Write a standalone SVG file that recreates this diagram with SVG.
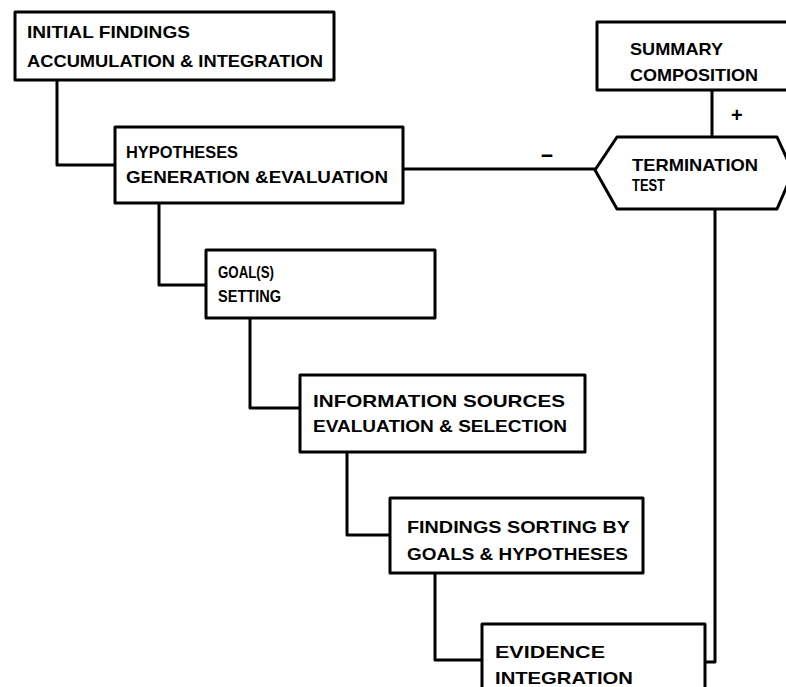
<svg xmlns="http://www.w3.org/2000/svg" width="786" height="687" viewBox="0 0 786 687">
  <style>
    .box { fill: #fff; stroke: #000; stroke-width: 3; stroke-linejoin: round; }
    .wire { fill: none; stroke: #000; stroke-width: 3; stroke-linejoin: round; }
    text { font-family: "Liberation Sans", Arial, sans-serif; font-weight: bold; font-size: 17px; fill: #000; }
    .sign { font-size: 20px; }
  </style>
  <rect width="786" height="687" fill="#fff"/>

  <!-- connectors -->
  <g id="connectors">
    <path class="wire" d="M57,80 V165 H115"/>
    <path class="wire" d="M159,203 V285 H206"/>
    <path class="wire" d="M250,318 V408 H300"/>
    <path class="wire" d="M347,452 V535 H390"/>
    <path class="wire" d="M435,573 V660 H482"/>
    <path class="wire" d="M705,662 H715 V209"/>
    <path class="wire" d="M403,169 H595"/>
    <path class="wire" d="M712,90 V137"/>
    <text class="sign" x="540" y="161" textLength="14" lengthAdjust="spacingAndGlyphs">-</text>
    <text class="sign" x="731" y="122">+</text>
  </g>

  <g id="initial-findings">
    <rect class="box" x="15" y="12" width="319" height="68"/>
    <text x="27" y="38" textLength="163" lengthAdjust="spacingAndGlyphs">INITIAL FINDINGS</text>
    <text x="27" y="67" textLength="296" lengthAdjust="spacingAndGlyphs">ACCUMULATION &amp; INTEGRATION</text>
  </g>

  <g id="hypotheses">
    <rect class="box" x="115" y="127" width="288" height="76"/>
    <text x="126" y="158" textLength="112" lengthAdjust="spacingAndGlyphs">HYPOTHESES</text>
    <text x="126" y="183" textLength="262" lengthAdjust="spacingAndGlyphs">GENERATION &amp;EVALUATION</text>
  </g>

  <g id="goal-setting">
    <rect class="box" x="206" y="250" width="229" height="68"/>
    <text x="218" y="278" textLength="56" lengthAdjust="spacingAndGlyphs">GOAL(S)</text>
    <text x="218" y="302" textLength="63" lengthAdjust="spacingAndGlyphs">SETTING</text>
  </g>

  <g id="information-sources">
    <rect class="box" x="300" y="375" width="285" height="77"/>
    <text x="313" y="407" textLength="252" lengthAdjust="spacingAndGlyphs">INFORMATION SOURCES</text>
    <text x="313" y="432" textLength="254" lengthAdjust="spacingAndGlyphs">EVALUATION &amp; SELECTION</text>
  </g>

  <g id="findings-sorting">
    <rect class="box" x="390" y="498" width="253" height="75"/>
    <text x="407" y="533" textLength="223" lengthAdjust="spacingAndGlyphs">FINDINGS  SORTING BY</text>
    <text x="407" y="560" textLength="221" lengthAdjust="spacingAndGlyphs">GOALS &amp; HYPOTHESES</text>
  </g>

  <g id="evidence-integration">
    <rect class="box" x="482" y="624" width="223" height="80"/>
    <text x="495" y="658" textLength="110" lengthAdjust="spacingAndGlyphs">EVIDENCE</text>
    <text x="495" y="684" textLength="138" lengthAdjust="spacingAndGlyphs">INTEGRATION</text>
  </g>

  <g id="termination-test">
    <polygon class="box" points="595,170 617,137 777,137 793,172 777,209 617,209"/>
    <text x="632" y="171" textLength="126" lengthAdjust="spacingAndGlyphs">TERMINATION</text>
    <text x="632" y="191" textLength="33" lengthAdjust="spacingAndGlyphs">TEST</text>
  </g>

  <g id="summary-composition">
    <rect class="box" x="597" y="22" width="200" height="68"/>
    <text x="630" y="55" textLength="93" lengthAdjust="spacingAndGlyphs">SUMMARY</text>
    <text x="630" y="81" textLength="128" lengthAdjust="spacingAndGlyphs">COMPOSITION</text>
  </g>
</svg>
